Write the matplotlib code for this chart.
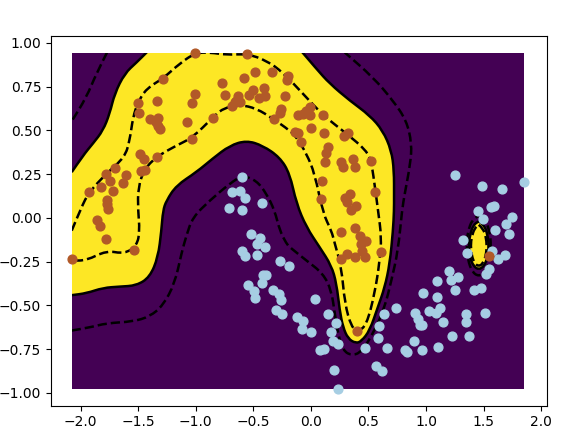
import numpy as np
import matplotlib
matplotlib.use('Agg')
import matplotlib.pyplot as plt
from matplotlib.path import Path
from matplotlib.patches import PathPatch

# points
class_0 = np.array([
    (-.596,.232),(-.682,.145),(-.613,.156),(-.575,.114),(-.711,.055),(-.598,.047),(-.422,.085),
    (-.517,-.095),(-.439,-.114),(-.468,-.149),(-.401,-.164),(-.598,-.191),(-.569,-.219),(-.468,-.215),
    (-.265,-.244),(-.187,-.275),(-.416,-.324),(-.393,-.324),(-.422,-.370),(-.543,-.381),(-.494,-.419),
    (-.488,-.457),(-.329,-.415),(-.280,-.435),(-.259,-.469),(-.300,-.524),(-.248,-.551),(-.118,-.564),
    (-.068,-.587),(-.077,-.638),(.004,-.653),(.039,-.465),(.152,-.547),(.218,-.602),(.175,-.655),
    (.192,-.701),(.236,-.720),(.114,-.751),(.076,-.758),(.198,-.869),(.236,-.977),(.473,-.745),
    (.580,-.686),(.592,-.617),(.635,-.549),(.743,-.513),(.664,-.745),(.569,-.848),(.618,-.876),
    (.821,-.753),(.838,-.768),(.963,-.754),(.899,-.701),(1.104,-.737),(1.223,-.673),(1.371,-.676),
    (1.145,-.596),(.965,-.612),(.951,-.615),(.931,-.577),(.907,-.543),(1.023,-.532),(1.090,-.541),
    (1.119,-.515),(1.099,-.455),(.971,-.427),(1.099,-.360),(1.200,-.305),(1.220,-.358),(1.278,-.339),
    (1.255,-.412),(1.414,-.415),(1.481,-.402),(1.351,-.547),(1.348,-.596),(1.516,-.545),(1.322,-.128),
    (1.356,-.200),(1.574,-.191),(1.626,-.238),(1.689,-.212),(1.548,-.290),(1.524,-.320),(1.602,-.069),
    (1.698,-.036),(1.750,.007),(1.718,-.095),(1.498,-.008),(1.452,.038),(1.249,.244),(1.490,.183),
    (1.664,.165),(1.848,.207),(1.568,.061),(1.591,.066)])

class_1 = np.array([
    (-1.004,.943),(-.552,.937),(-1.288,.792),(-.485,.836),(-.341,.834),(-.202,.813),(-.210,.790),
    (-.584,.800),(-.772,.769),(-1.010,.706),(-.743,.703),(-.503,.731),(-.538,.701),(-.410,.743),
    (-.401,.695),(-.448,.687),(-.225,.695),(-.636,.699),(-.648,.670),(-.619,.661),(-.682,.640),
    (-.659,.661),(-1.502,.657),(-1.340,.665),(-1.030,.657),(-1.493,.598),(-1.395,.567),(-1.331,.571),
    (-1.348,.546),(-1.331,.527),(-1.314,.505),(-1.079,.545),(-.847,.569),(-1.033,.451),(-.262,.623),
    (-.268,.600),(-.320,.564),(-1.487,.364),(-1.447,.339),(-1.334,.350),(-1.441,.276),(-1.479,.265),
    (-1.702,.287),(-1.777,.251),(-1.742,.213),(-1.606,.244),(-1.635,.198),(-1.826,.175),(-1.928,.148),
    (-1.719,.156),(-1.774,.103),(-1.774,.080),(-1.765,.051),(-1.861,-.012),(-1.829,-.046),(-1.777,-.120),
    (-1.534,-.181),(-2.075,-.233),(.105,.587),(-.010,.636),(-.039,.613),(-.112,.590),(-.068,.594),
    (-.005,.590),(.004,.514),(.111,.487),(-.112,.487),(-.141,.489),(-.089,.434),(.323,.484),(.288,.466),
    (.146,.404),(.134,.371),(.123,.320),(.259,.318),(.279,.289),(.366,.337),(.380,.289),(.519,.325),
    (.100,.213),(.560,.150),(.085,.105),(.337,.137),(.294,.112),(.314,.089),(.395,.066),(.352,.042),
    (.265,-.080),(.386,-.059),(.424,-.101),(.476,-.134),(.438,-.149),(.447,-.187),(.314,-.206),
    (.259,-.236),(.386,-.225),(.467,-.221),(.609,-.198),(.404,-.648),(1.545,-.219)])

# decision function levels, traced by hand
zero_top_left = [(-2.078,.261),(-1.980,.356),(-1.893,.425),(-1.806,.499),(-1.748,.596),(-1.705,.710),
    (-1.618,.825),(-1.516,.887),(-1.420,.950)]
zero_main = [(-.080,.950),(.048,.851),(.163,.767),(.337,.670),(.511,.585),(.624,.499),(.699,.385),
    (.722,.270),(.722,.118),(.722,.042),(.713,-.073),(.685,-.261),(.641,-.398),(.580,-.513),(.511,-.644),
    (.439,-.705),(.389,-.717),(.322,-.690),(.279,-.625),(.250,-.530),(.222,-.375),(.178,-.273),(.076,-.168),
    (-.039,-.054),(-.126,.082),(-.184,.253),(-.271,.346),(-.419,.413),(-.560,.442),(-.705,.413),(-.853,.339),
    (-.995,.261),(-1.169,.185),(-1.255,.099),(-1.285,.042),(-1.299,-.073),(-1.328,-.225),(-1.400,-.339),
    (-1.516,-.387),(-1.661,-.393),(-1.806,-.400),(-1.950,-.431),(-2.078,-.442)]
zero_oval = [(1.458,-.020),(1.505,-.04),(1.535,-.10),(1.545,-.158),(1.535,-.225),(1.505,-.275),(1.458,-.297),
    (1.411,-.275),(1.381,-.225),(1.371,-.158),(1.381,-.10),(1.411,-.04),(1.458,-.020)]

plus_main = [(-2.078,-.073),(-1.994,.061),(-1.928,.146),(-1.777,.253),(-1.618,.346),(-1.574,.442),(-1.546,.575),
    (-1.502,.661),(-1.429,.739),(-1.285,.796),(-1.140,.882),(-1.003,.943),(-.873,.945),(-.734,.931),(-.552,.937),
    (-.387,.899),(-.245,.832),(-.069,.709),(.105,.586),(.308,.482),(.482,.385),(.526,.318),(.560,.156),(.583,.042),
    (.613,-.111),(.598,-.244),(.554,-.433),(.482,-.615),(.409,-.648),(.352,-.625),(.294,-.490),(.265,-.282),
    (.207,-.147),(.178,-.073),(.105,.025),(.033,.253),(-.039,.367),(-.126,.461),(-.184,.499),(-.332,.567),
    (-.473,.625),(-.619,.647),(-.766,.625),(-.853,.573),(-1.027,.459),(-1.169,.413),(-1.334,.352),(-1.444,.282),
    (-1.502,.175),(-1.502,.042),(-1.487,-.073),(-1.511,-.158),(-1.618,-.206),(-1.777,-.187),(-1.950,-.244),(-2.078,-.244)]
plus_oval = [(1.458,-.040),(1.495,-.06),(1.520,-.11),(1.528,-.158),(1.520,-.215),(1.495,-.26),(1.458,-.278),
    (1.421,-.26),(1.396,-.215),(1.388,-.158),(1.396,-.11),(1.421,-.06),(1.458,-.040)]

minus_corner = [(-1.771,.945),(-1.864,.825),(-1.950,.689),(-2.078,.552)]
minus_main = [(-2.078,-.644),(-1.922,-.627),(-1.777,-.602),(-1.546,-.593),(-1.400,-.564),(-1.285,-.501),(-1.183,-.375),
    (-1.125,-.204),(-1.082,-.101),(-1.027,.003),(-.879,.099),(-.705,.196),(-.595,.242),(-.473,.213),(-.387,.139),
    (-.315,.042),(-.271,-.073),(-.213,-.147),(-.184,-.168),(-.039,-.244),(.105,-.318),(.178,-.415),(.207,-.547),
    (.235,-.661),(.279,-.758),(.352,-.787),(.439,-.768),(.554,-.644),(.641,-.511),(.699,-.358),(.757,-.187),
    (.791,.042),(.815,.139),(.864,.310),(.876,.425),(.830,.556),(.713,.670),(.540,.803),(.294,.945)]
minus_oval = [(1.458,.012),(1.515,-.01),(1.553,-.08),(1.565,-.158),(1.553,-.24),(1.515,-.31),(1.458,-.335),
    (1.401,-.31),(1.363,-.24),(1.351,-.158),(1.363,-.08),(1.401,-.01),(1.458,.012)]


def smooth(points):
    # quadratic segments through the midpoints, keeps the traced lines from looking faceted
    verts = [points[0]]
    codes = [Path.MOVETO]
    for i in range(1, len(points) - 1):
        mid = ((points[i][0] + points[i + 1][0]) / 2, (points[i][1] + points[i + 1][1]) / 2)
        verts += [points[i], mid]
        codes += [Path.CURVE3, Path.CURVE3]
    verts.append(points[-1])
    codes.append(Path.LINETO)
    return verts, codes


fig = plt.figure(figsize=(5.8, 4.33), dpi=100)
ax = fig.add_axes([51 / 580, 1 - 405.6 / 433, 495.8 / 580, 369.6 / 433])

all_points = np.vstack([class_0, class_1])
x0, y0 = all_points.min(axis=0)
x1, y1 = all_points.max(axis=0)
back = ax.fill([x0, x1, x1, x0], [y0, y0, y1, y1], color='#440154', lw=0, zorder=1)[0]

# yellow region
v1, c1 = smooth(zero_top_left)
v2, c2 = smooth(zero_main)
c2[0] = Path.LINETO
v3, c3 = smooth(zero_oval)
region = Path(v1 + v2 + [v1[0]] + v3, c1 + c2 + [Path.LINETO] + c3)
patch = PathPatch(region, facecolor='#fde725', edgecolor='none', lw=0, zorder=2)
ax.add_patch(patch)
patch.set_clip_path(back)

for line in [zero_top_left, zero_main, zero_oval]:
    v, c = smooth(line)
    p = PathPatch(Path(v, c), fill=False, edgecolor='k', lw=1.8, zorder=3)
    ax.add_patch(p)
    p.set_clip_path(back)

for line in [plus_main, plus_oval, minus_corner, minus_main, minus_oval]:
    v, c = smooth(line)
    p = PathPatch(Path(v, c), fill=False, edgecolor='k', lw=1.8, ls='--', zorder=3)
    ax.add_patch(p)
    p.set_clip_path(back)

ax.scatter(class_0[:, 0], class_0[:, 1], c='#a6cee3', s=40, zorder=4)
ax.scatter(class_1[:, 0], class_1[:, 1], c='#b15928', s=40, zorder=4)

ax.set_xlim(-2.258, 2.049)
ax.set_ylim(y0 - 0.05 * (y1 - y0), y1 + 0.05 * (y1 - y0))

fig.savefig('out.png', dpi=100)
